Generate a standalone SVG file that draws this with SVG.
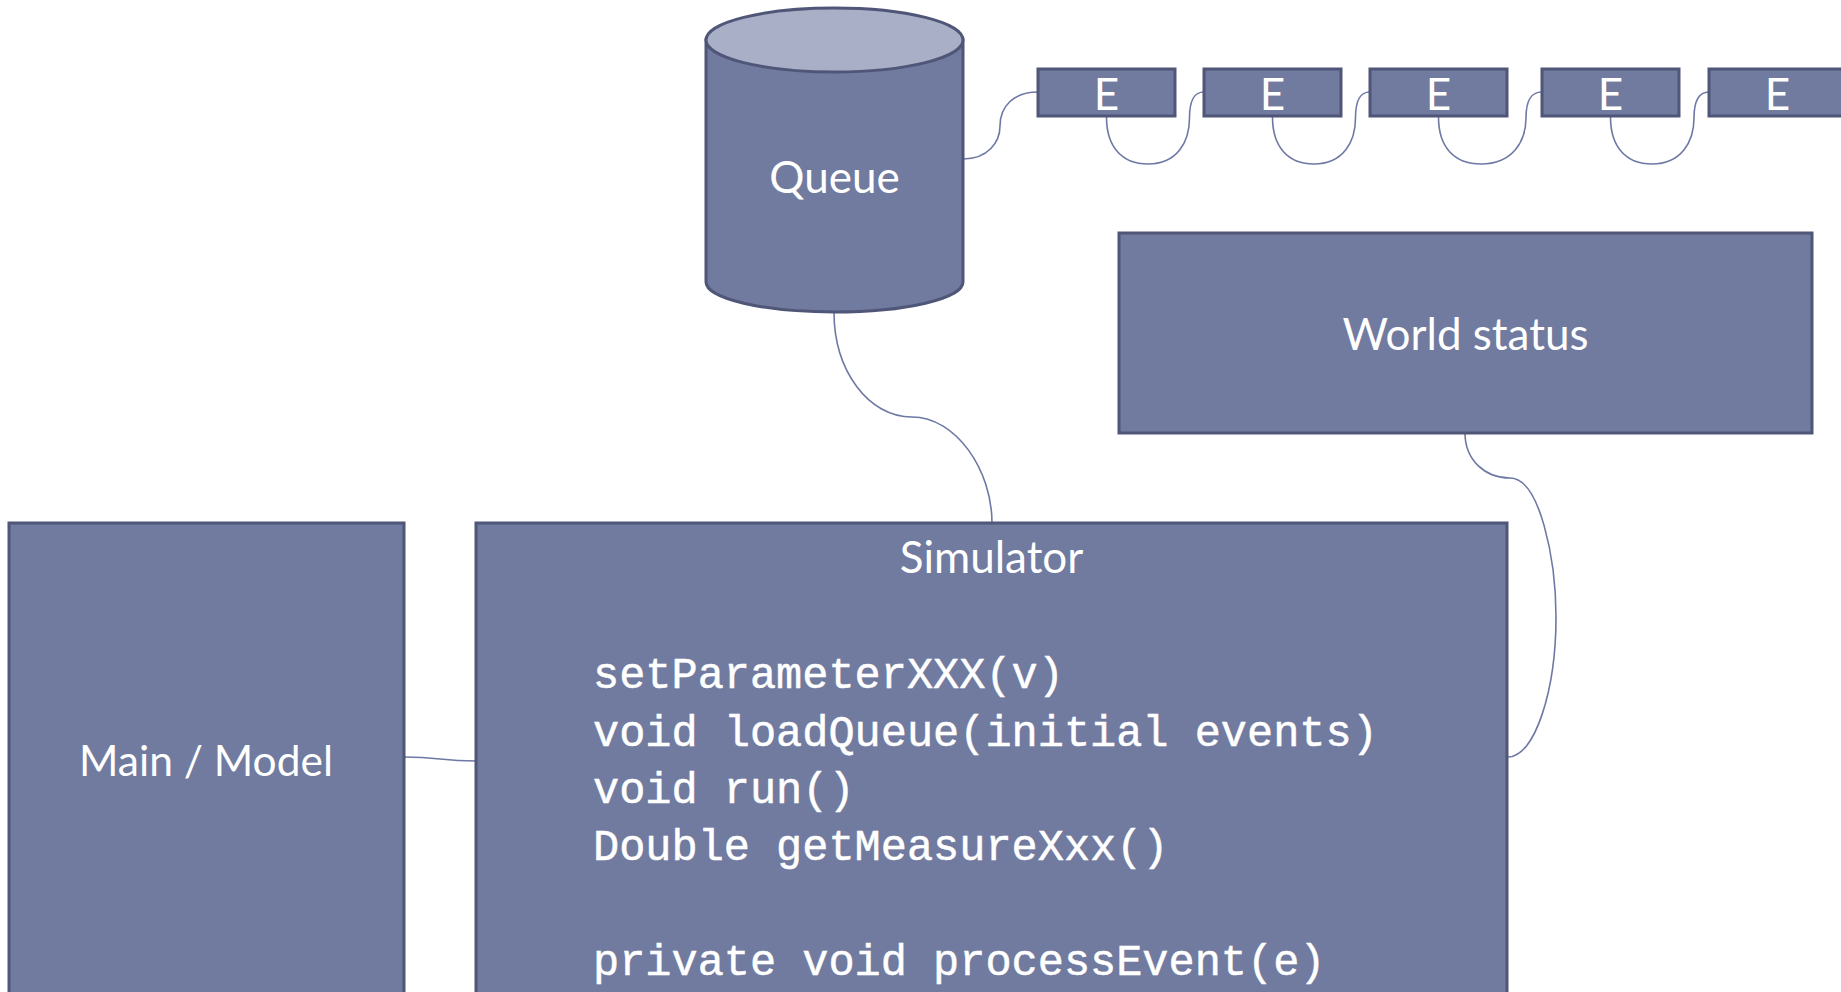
<svg xmlns="http://www.w3.org/2000/svg" width="1841" height="992" viewBox="0 0 1841 992">
<style>
.box{fill:#717BA0;stroke:#4F5677;stroke-width:3}
.top{fill:#A9AFC7;stroke:#4F5677;stroke-width:3}
.lbl{fill:#fff;font-family:Lato,"Open Sans",sans-serif;font-size:44px;text-anchor:middle}
.code{fill:#fff;stroke:#fff;stroke-width:0.5;font-family:"Liberation Mono","DejaVu Sans Mono",monospace;font-size:43.6px}
.con{fill:none;stroke:#6E78A4;stroke-width:1.6}
</style>
<rect width="1841" height="992" fill="#fff"/>
<g id="connectors">
<path class="con" d="M963,159 C988,159 1000,142 1000,126 C1000,106 1014,92 1038,92"/>
<path class="con" d="M1106.5,117 C1106.5,147 1122,164 1148,164 C1177,164 1189.5,142 1189.5,118 C1189.5,100 1194,92 1204,92"/>
<path class="con" d="M1272.5,117 C1272.5,147 1288,164 1314,164 C1343,164 1355.5,142 1355.5,118 C1355.5,100 1360,92 1370,92"/>
<path class="con" d="M1438.5,117 C1438.5,147 1454,164 1481,164 C1512,164 1526,142 1526,118 C1526,100 1531,92 1542,92"/>
<path class="con" d="M1610.5,117 C1610.5,147 1626,164 1652,164 C1681,164 1694,142 1694,118 C1694,100 1699,92 1709,92"/>
<path class="con" d="M834,312 C834,370 868,417 912,417 C956,417 992,470 992,523"/>
<path class="con" d="M1465,433 C1465,460 1485,478 1510,478 C1540,478 1556,560 1556,617 C1556,690 1535,757 1508,757"/>
<path class="con" d="M404,757 C440,757 440,761 476,761"/>
</g>
<g id="queue">
<path class="box" d="M706,40 L706,282 A128.5,30 0 0 0 963,282 L963,40 Z"/>
<ellipse class="top" cx="834.5" cy="40" rx="128.5" ry="32"/>
<text class="lbl" x="834.5" y="193">Queue</text>
</g>
<g id="e1"><rect class="box" x="1038" y="69" width="137" height="47"/><text class="lbl" x="1106.5" y="110">E</text></g>
<g id="e2"><rect class="box" x="1204" y="69" width="137" height="47"/><text class="lbl" x="1272.5" y="110">E</text></g>
<g id="e3"><rect class="box" x="1370" y="69" width="137" height="47"/><text class="lbl" x="1438.5" y="110">E</text></g>
<g id="e4"><rect class="box" x="1542" y="69" width="137" height="47"/><text class="lbl" x="1610.5" y="110">E</text></g>
<g id="e5"><rect class="box" x="1709" y="69" width="137" height="47"/><text class="lbl" x="1777.5" y="110">E</text></g>
<g id="world">
<rect class="box" x="1119" y="233" width="693" height="200"/>
<text class="lbl" x="1465.5" y="350">World status</text>
</g>
<g id="main">
<rect class="box" x="9" y="523" width="395" height="480"/>
<text class="lbl" x="206" y="776" style="font-size:42.5px">Main / Model</text>
</g>
<g id="simulator">
<rect class="box" x="476" y="523" width="1031" height="480"/>
<text class="lbl" x="991.5" y="573">Simulator</text>
<text class="code" x="593" y="688">setParameterXXX(v)</text>
<text class="code" x="593" y="746">void loadQueue(initial events)</text>
<text class="code" x="593" y="803">void run()</text>
<text class="code" x="593" y="860">Double getMeasureXxx()</text>
<text class="code" x="593" y="975">private void processEvent(e)</text>
</g>
</svg>
